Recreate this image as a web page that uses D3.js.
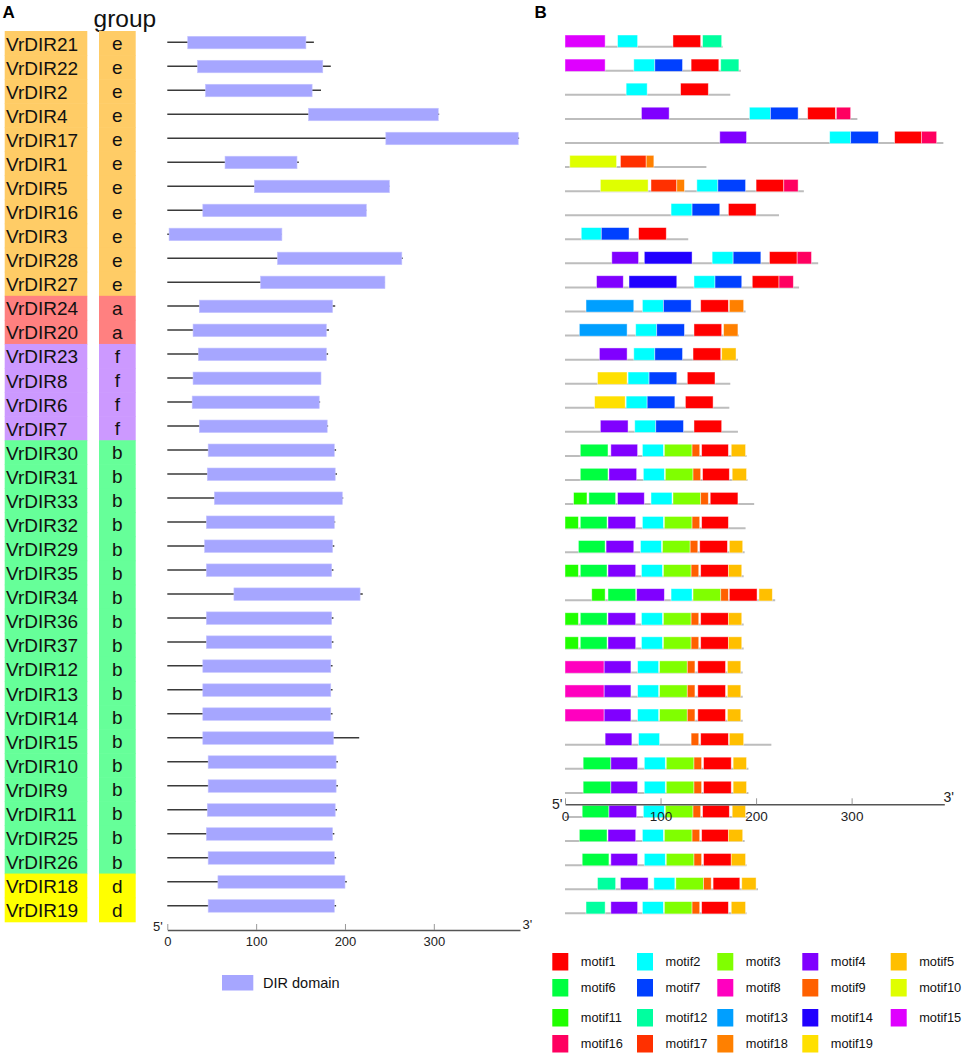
<!DOCTYPE html>
<html>
<head>
<meta charset="utf-8">
<script src="https://cdn.jsdelivr.net/npm/d3@7/dist/d3.min.js"></script>
<style>
  html, body { margin: 0; padding: 0; background: #fff; }
  svg { display: block; font-family: "Liberation Sans", Arial, Helvetica, sans-serif; }
</style>
</head>
<body>
<script>
// ---------------- DATA ----------------
const genes = ["VrDIR21","VrDIR22","VrDIR2","VrDIR4","VrDIR17","VrDIR1","VrDIR5","VrDIR16","VrDIR3","VrDIR28","VrDIR27",
  "VrDIR24","VrDIR20","VrDIR23","VrDIR8","VrDIR6","VrDIR7",
  "VrDIR30","VrDIR31","VrDIR33","VrDIR32","VrDIR29","VrDIR35","VrDIR34","VrDIR36","VrDIR37","VrDIR12","VrDIR13","VrDIR14","VrDIR15","VrDIR10","VrDIR9","VrDIR11","VrDIR25","VrDIR26",
  "VrDIR18","VrDIR19"];
const groups = ["e","e","e","e","e","e","e","e","e","e","e",
  "a","a","f","f","f","f",
  "b","b","b","b","b","b","b","b","b","b","b","b","b","b","b","b","b","b",
  "d","d"];
// protein length (aa)
const proteinLength = [165,184,173,306,396,148,250,224,129,265,245,189,182,181,173,172,181,
  190,191,198,189,188,187,220,187,187,186,186,186,216,192,192,191,188,190,202,190];
// DIR domain start / end (aa)
const domainStart = [23,34,43,159,246,65,98,40,2,124,105,36,29,35,29,28,36,
  46,45,53,44,42,44,75,44,44,40,40,40,40,46,46,45,44,46,57,46];
const domainEnd = [156,175,163,305,395,146,250,224,129,264,245,186,179,179,173,171,180,
  188,189,197,188,186,185,217,185,185,184,184,184,187,190,190,189,186,188,200,188];
// motif hits per gene: [motif number, start, end]
const motifHits = [
  [[15,0,42],[2,55,76],[1,113,142],[12,144,164]],
  [[15,0,42],[2,72,94],[7,94,123],[1,132,161],[12,163,182]],
  [[2,64,86],[1,121,150]],
  [[4,80,109],[2,193,215],[7,215,244],[1,254,283],[16,284,299]],
  [[4,162,190],[2,277,299],[7,299,328],[1,345,373],[16,373,389]],
  [[10,5,54],[17,58,85],[18,85,93]],
  [[10,37,87],[17,90,117],[18,117,125],[2,138,160],[7,160,189],[1,200,229],[16,229,244]],
  [[2,111,133],[7,133,162],[1,171,200]],
  [[2,17,38],[7,38,67],[1,77,106]],
  [[4,49,77],[14,83,133],[2,154,176],[7,176,205],[1,214,243],[16,243,258]],
  [[4,33,61],[14,67,117],[2,135,157],[7,157,185],[1,196,224],[16,224,239]],
  [[13,22,72],[2,81,103],[7,103,132],[1,142,171],[18,172,187]],
  [[13,15,65],[2,74,96],[7,96,125],[1,135,164],[18,166,181]],
  [[4,36,65],[2,72,94],[7,94,123],[1,134,163],[5,164,179]],
  [[19,34,65],[2,66,88],[7,88,117],[1,128,157]],
  [[19,31,63],[2,64,86],[7,86,115],[1,126,155]],
  [[4,37,66],[2,73,95],[7,95,124],[1,135,164]],
  [[6,16,45],[4,48,76],[2,81,103],[3,104,133],[9,133,141],[1,143,171],[5,174,189]],
  [[6,16,45],[4,46,75],[2,82,104],[3,105,134],[9,134,142],[1,144,172],[5,175,190]],
  [[11,9,23],[6,25,53],[4,55,83],[2,90,112],[3,113,142],[9,142,150],[1,152,181]],
  [[11,0,14],[6,16,44],[4,45,74],[2,81,103],[3,104,133],[9,133,141],[1,143,171]],
  [[6,14,42],[4,43,72],[2,79,101],[3,102,131],[9,131,139],[1,141,170],[5,172,186]],
  [[11,0,14],[6,16,44],[4,45,74],[2,80,102],[3,103,132],[9,132,140],[1,142,171],[5,171,185]],
  [[11,28,42],[6,45,74],[4,75,104],[2,111,133],[3,134,163],[9,163,171],[1,172,201],[5,203,217]],
  [[11,0,14],[6,16,44],[4,45,74],[2,80,102],[3,103,132],[9,132,140],[1,142,171],[5,171,185]],
  [[11,0,14],[6,16,44],[4,45,74],[2,80,102],[3,103,132],[9,132,140],[1,142,171],[5,171,185]],
  [[8,0,41],[4,41,69],[2,76,98],[3,99,128],[9,128,136],[1,139,168],[5,170,184]],
  [[8,0,41],[4,41,69],[2,76,98],[3,99,128],[9,128,136],[1,139,168],[5,170,184]],
  [[8,0,41],[4,41,69],[2,76,98],[3,99,128],[9,128,136],[1,139,168],[5,170,184]],
  [[4,42,70],[2,77,99],[9,132,140],[1,142,171],[5,172,187]],
  [[6,19,48],[4,48,76],[2,83,105],[3,106,135],[9,135,143],[1,145,174],[5,176,190]],
  [[6,19,48],[4,48,76],[2,83,105],[3,106,135],[9,135,143],[1,145,174],[5,176,190]],
  [[6,18,46],[4,46,75],[2,82,104],[3,105,134],[9,134,142],[1,144,172],[5,175,189]],
  [[6,15,44],[4,45,74],[2,81,103],[3,104,133],[9,133,141],[1,143,171],[5,171,186]],
  [[6,18,46],[4,48,76],[2,83,105],[3,106,135],[9,135,143],[1,145,174],[5,174,189]],
  [[12,34,53],[4,58,87],[2,93,115],[3,116,145],[9,145,153],[1,155,183],[5,185,200]],
  [[12,22,42],[4,48,76],[2,81,103],[3,104,133],[9,133,141],[1,143,171],[5,174,189]]
];
const motifNames = ["motif1","motif2","motif3","motif4","motif5","motif6","motif7","motif8","motif9","motif10",
  "motif11","motif12","motif13","motif14","motif15","motif16","motif17","motif18","motif19"];
const axisTicks = [0,100,200,300];
const axisMax = 397;
const domainLegend = "DIR domain";

// ---------------- STYLES ----------------
const motifColors = ["#FF0000","#00FFFF","#80FF00","#8000FF","#FFBF00","#00FF40","#0040FF","#FF00BF","#FF6000","#DFFF00",
  "#20FF00","#00FF9F","#009FFF","#2000FF","#DF00FF","#FF0060","#FF3000","#FF8000","#FFE000"];
const groupColors = { e: "#FFCC66", a: "#FF8080", f: "#CC99FF", b: "#66FF99", d: "#FFFF00" };
const domainColor = "#A6A6FF";

// ---------------- LAYOUT ----------------
const W = 962, H = 1055;
const svg = d3.select("body").append("svg").attr("width", W).attr("height", H);

const xA = d3.scaleLinear().domain([0, axisMax]).range([167.3, 520]);
const xB = d3.scaleLinear().domain([0, axisMax]).range([565, 944.3]);
const yBand = d3.scaleBand().domain(genes).range([31, 921.7]);
const yA = d3.scalePoint().domain(genes).range([42.3, 905.7]);
const yB = d3.scalePoint().domain(genes).range([46.7, 913.3]);

const rows = genes.map((g, i) => ({ gene: g, group: groups[i], len: proteinLength[i],
  ds: domainStart[i], de: domainEnd[i], hits: motifHits[i] }));

// Panel labels
svg.append("text").attr("x", 2.5).attr("y", 18).attr("font-size", 17).attr("font-weight", "bold").text("A");
svg.append("text").attr("x", 534.5).attr("y", 18).attr("font-size", 17).attr("font-weight", "bold").text("B");
svg.append("text").attr("x", 93.5).attr("y", 26.5).attr("font-size", 24.5).attr("fill", "#111").text("group");

// Name / group columns
const left = svg.append("g");
left.selectAll("rect.name").data(rows).join("rect")
  .attr("x", 4.7).attr("y", d => yBand(d.gene)).attr("width", 82.6).attr("height", yBand.bandwidth() + 0.6)
  .attr("fill", d => groupColors[d.group]);
left.selectAll("rect.grp").data(rows).join("rect")
  .attr("x", 99).attr("y", d => yBand(d.gene)).attr("width", 36.7).attr("height", yBand.bandwidth() + 0.6)
  .attr("fill", d => groupColors[d.group]);
left.selectAll("text.name").data(rows).join("text")
  .attr("x", 6).attr("y", d => yBand(d.gene) + yBand.bandwidth() / 2 + 7.5)
  .attr("font-size", 19).attr("fill", "#111").text(d => d.gene);
left.selectAll("text.grp").data(rows).join("text")
  .attr("x", 117.4).attr("y", d => yBand(d.gene) + yBand.bandwidth() / 2 + 7)
  .attr("text-anchor", "middle").attr("font-size", 19).attr("fill", "#111").text(d => d.group);

// Panel A: protein lines + DIR domain
const pA = svg.append("g");
pA.selectAll("line").data(rows).join("line")
  .attr("x1", xA(0)).attr("x2", d => xA(d.len))
  .attr("y1", d => yA(d.gene)).attr("y2", d => yA(d.gene))
  .attr("stroke", "#3a3a3a").attr("stroke-width", 1.5);
pA.selectAll("rect").data(rows).join("rect")
  .attr("x", d => xA(d.ds)).attr("width", d => xA(d.de) - xA(d.ds))
  .attr("y", d => yA(d.gene) - 6).attr("height", 12.5)
  .attr("fill", domainColor).attr("stroke", "#c4c4ff").attr("stroke-width", 0.6);

// Axes
function drawAxis(scale, y, pad, fs) {
  const g = svg.append("g").attr("transform", `translate(0,${y})`)
    .call(d3.axisBottom(scale).tickValues(axisTicks).tickSize(-6).tickSizeOuter(0).tickPadding(pad).tickFormat(d3.format("d")));
  g.select(".domain").attr("stroke", "#555").attr("stroke-width", 1.6);
  g.selectAll(".tick line").attr("stroke", "#999").attr("stroke-width", 1);
  g.selectAll(".tick text").attr("font-size", fs).attr("fill", "#222")
    .attr("font-family", "'Liberation Sans', Arial, sans-serif");
  return g;
}
drawAxis(xA, 930, 6.5, 13);
svg.append("text").attr("x", 153).attr("y", 931).attr("font-size", 13).attr("fill", "#222").text("5'");
svg.append("text").attr("x", 522.5).attr("y", 929).attr("font-size", 13).attr("fill", "#222").text("3'");

// Legend A
svg.append("rect").attr("x", 222).attr("y", 975).attr("width", 31.3).attr("height", 15.5).attr("fill", domainColor);
svg.append("text").attr("x", 263).attr("y", 988).attr("font-size", 14.5).attr("fill", "#111").text(domainLegend);

// Panel B: protein lines + motifs
const pB = svg.append("g");
pB.selectAll("line").data(rows).join("line")
  .attr("x1", xB(0)).attr("x2", d => xB(d.len))
  .attr("y1", d => yB(d.gene)).attr("y2", d => yB(d.gene))
  .attr("stroke", "#bdbdbd").attr("stroke-width", 2);
const hitData = rows.flatMap(r => r.hits.map(h => ({ gene: r.gene, m: h[0], s: h[1], e: h[2] })));
pB.selectAll("rect").data(hitData).join("rect")
  .attr("x", d => xB(d.s)).attr("width", d => xB(d.e) - xB(d.s))
  .attr("y", d => yB(d.gene) - 11.7).attr("height", 12.3)
  .attr("fill", d => motifColors[d.m - 1])
  .attr("stroke", "rgba(255,255,255,0.55)").attr("stroke-width", 0.8);

drawAxis(xB, 804.3, 7, 13.5);
svg.append("text").attr("x", 552).attr("y", 808.5).attr("font-size", 14).attr("fill", "#222").text("5'");
svg.append("text").attr("x", 943.5).attr("y", 802).attr("font-size", 14).attr("fill", "#222").text("3'");

// Legend B
const legColRect = [552.3, 637, 717.3, 802.3, 890.7];
const legRowTop = [953, 979, 1009, 1035];
const leg = svg.append("g");
const legItems = motifNames.map((n, i) => ({ name: n, color: motifColors[i], col: i % 5, row: Math.floor(i / 5) }));
leg.selectAll("rect").data(legItems).join("rect")
  .attr("x", d => legColRect[d.col]).attr("y", d => legRowTop[d.row])
  .attr("width", 16).attr("height", 17.5).attr("fill", d => d.color);
leg.selectAll("text").data(legItems).join("text")
  .attr("x", d => legColRect[d.col] + 28.5).attr("y", d => legRowTop[d.row] + 13.2)
  .attr("font-size", 12.8).attr("fill", "#111").text(d => d.name);
</script>
</body>
</html>
